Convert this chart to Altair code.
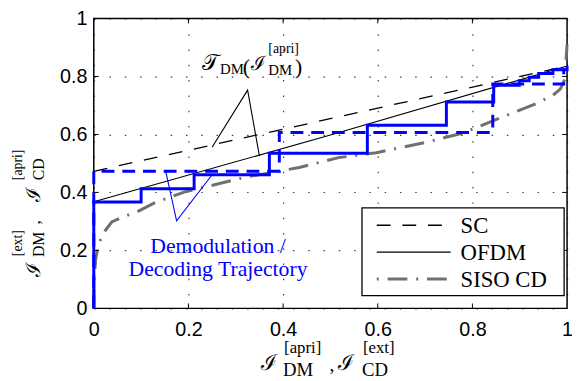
import altair as alt
import pandas as pd

# ---------------- data ----------------
X_SC = [0.0, 1.0]
Y_SC = [0.473, 0.836]

X_OFDM = [0.0, 0.5, 1.0]
Y_OFDM = [0.368, 0.598, 0.836]

X_CD = [0.0, 0.001, 0.004, 0.01, 0.02, 0.038, 0.062, 0.09, 0.13, 0.191, 0.319,
        0.434, 0.517, 0.597, 0.705, 0.778, 0.865, 0.934, 0.97, 0.986, 0.995, 1.0]
Y_CD = [0.0, 0.1, 0.17, 0.22, 0.26, 0.298, 0.316, 0.332, 0.365, 0.401, 0.452,
        0.486, 0.52, 0.537, 0.574, 0.604, 0.661, 0.706, 0.735, 0.757, 0.79, 0.91]

X_TRAJ_OFDM = [0.0, 0.0, 0.1, 0.1, 0.212, 0.212, 0.371, 0.371, 0.578, 0.578,
               0.745, 0.745, 0.845, 0.845, 0.899, 0.899, 0.92, 0.92, 0.94, 0.94,
               0.97, 0.97, 1.0, 1.0]
Y_TRAJ_OFDM = [0.0, 0.367, 0.367, 0.413, 0.413, 0.461, 0.461, 0.535, 0.535, 0.632,
               0.632, 0.712, 0.712, 0.770, 0.770, 0.785, 0.785, 0.797, 0.797, 0.81,
               0.81, 0.823, 0.823, 0.836]

X_TRAJ_SC = [0.0, 0.0, 0.392, 0.392, 0.843, 0.843, 0.993, 0.993]
Y_TRAJ_SC = [0.0, 0.473, 0.473, 0.607, 0.607, 0.774, 0.774, 0.828]

ANN_BLACK_X = [0.25, 0.325, 0.35]
ANN_BLACK_Y = [0.556, 0.753, 0.525]
ANN_BLUE_X = [0.152, 0.175, 0.25]
ANN_BLUE_Y = [0.473, 0.302, 0.461]

TICKS = [0.0, 0.2, 0.4, 0.6, 0.8, 1.0]
LEGEND_LABELS = ["SC", "OFDM", "SISO CD"]
TRAJ_LABEL = ["Demodulation /", "Decoding Trajectory"]

W, H = 480, 294
BLUE = "#0000ff"
GRAY = "#707070"
SERIF = "Liberation Serif"


def df(xs, ys):
    return pd.DataFrame({"x": xs, "y": ys, "i": list(range(len(xs)))})


SX = alt.Scale(domain=[0, 1], nice=False, zero=False)
SY = alt.Scale(domain=[0, 1], nice=False, zero=False)
COMMON_AX = dict(values=TICKS, format="~g", title=None, domain=False, ticks=False,
                 tickSize=0, labelFont="Liberation Sans", labelFontSize=20,
                 labelColor="black", labelFlush=False, grid=True, gridColor="#000",
                 gridOpacity=0.75, gridDash=[1.5, 14], gridWidth=1.2)
AX = alt.Axis(labelPadding=11, **COMMON_AX)
AY = alt.Axis(labelPadding=7, **COMMON_AX)


def line(xs, ys, color, width, dash=None):
    kw = dict(color=color, strokeWidth=width, clip=False)
    if dash is not None:
        kw["strokeDash"] = dash
    return alt.Chart(df(xs, ys)).mark_line(**kw).encode(
        x=alt.X("x:Q", scale=SX, axis=AX),
        y=alt.Y("y:Q", scale=SY, axis=AY),
        order="i:Q",
    )


layers = []
layers.append(line(X_SC, Y_SC, "black", 1.3, [14, 12]))
layers.append(line(X_OFDM, Y_OFDM, "black", 1.2))
layers.append(line(X_CD, Y_CD, GRAY, 3, [20, 9, 2, 9]))
layers.append(line(X_TRAJ_SC, Y_TRAJ_SC, BLUE, 3, [13, 8]))
layers.append(line(X_TRAJ_OFDM, Y_TRAJ_OFDM, BLUE, 3))
layers.append(line(ANN_BLACK_X, ANN_BLACK_Y, "black", 1.1))
layers.append(line(ANN_BLUE_X, ANN_BLUE_Y, BLUE, 1.1))

# inward ticks on all four sides
tick_df = pd.DataFrame({"t": TICKS[1:-1]})
tx = alt.X("t:Q", scale=SX, axis=AX)
ty = alt.Y("t:Q", scale=SY, axis=AY)
tick_mark = alt.Chart(tick_df).mark_rule(color="black", strokeWidth=1)
layers.append(tick_mark.encode(x=tx, y=alt.value(H), y2=alt.value(H - 5)))
layers.append(tick_mark.encode(x=tx, y=alt.value(0), y2=alt.value(5)))
layers.append(tick_mark.encode(y=ty, x=alt.value(0), x2=alt.value(5)))
layers.append(tick_mark.encode(y=ty, x=alt.value(W - 5), x2=alt.value(W)))

one = pd.DataFrame({"a": [0]})


def txt(s, x, y, size, color="black", angle=0, align="left", baseline="alphabetic",
        font=SERIF):
    return alt.Chart(one).mark_text(
        text=s, font=font, fontSize=size, color=color, angle=angle,
        align=align, baseline=baseline,
    ).encode(x=alt.value(x), y=alt.value(y))


# legend
layers.append(alt.Chart(one).mark_rect(fill="white", stroke="black", strokeWidth=1.3).encode(
    x=alt.value(272), x2=alt.value(477), y=alt.value(192), y2=alt.value(281)))
leg_styles = [("black", 1.3, [14, 12]), ("black", 1.2, None), (GRAY, 3, [2, 9, 20, 9])]
for k, (lab, (c, w, d)) in enumerate(zip(LEGEND_LABELS, leg_styles)):
    yy = 209.7 + 27.3 * k
    kw = dict(color=c, strokeWidth=w)
    if d is not None:
        kw["strokeDash"] = d
    layers.append(alt.Chart(one).mark_rule(**kw).encode(
        x=alt.value(287), x2=alt.value(362), y=alt.value(yy)))
    layers.append(txt(lab, 372, yy + 8.3, 23))

# trajectory label
layers.append(txt(TRAJ_LABEL[0], 126, 238, 22, BLUE, align="center"))
layers.append(txt(TRAJ_LABEL[1], 126, 261, 22, BLUE, align="center"))

# T_DM(I_DM^[apri]) annotation
for s, x, y, sz in [("𝒯", 110, 52, 22), ("DM", 128, 56, 15), ("(", 151, 56, 22),
                    ("ℐ", 159, 52, 20), ("[apri]", 177, 35, 14), ("DM", 177, 57, 15),
                    (")", 204, 56, 22)]:
    layers.append(txt(s, x, y, sz))

# x axis title
for s, x, y, sz in [("ℐ", 170, 356, 22), ("DM", 192, 363, 19), ("[apri]", 193, 339, 17),
                    (",", 239, 357, 20), ("ℐ", 248, 356, 22), ("[ext]", 273, 339, 17),
                    ("CD", 272, 363, 19)]:
    layers.append(txt(s, x, y, sz))

# y axis title (rotated)
for s, x, y, sz in [("ℐ", -55, 262, 20), ("DM", -50, 242, 16), ("[ext]", -73, 241, 14),
                    (",", -55, 209, 18), ("ℐ", -55, 186, 20), ("CD", -50, 164, 16),
                    ("[apri]", -73, 164, 14)]:
    layers.append(txt(s, x, y, sz, angle=270))

chart = alt.layer(*layers).properties(
    width=W, height=H,
    padding={"left": 87, "top": 8, "right": 5, "bottom": 71},
    autosize=alt.AutoSizeParams(type="none"),
).configure_view(stroke="black", strokeWidth=1.5)

chart.save("out.html", embed_options={"renderer": "svg", "actions": False})
